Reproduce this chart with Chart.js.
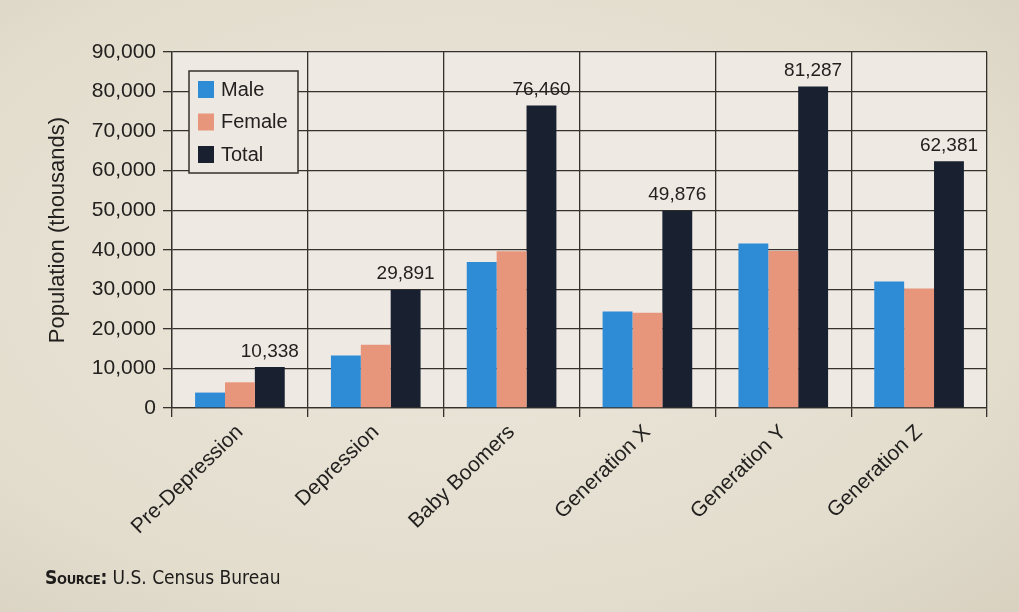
<!DOCTYPE html>
<html>
<head>
<meta charset="utf-8">
<script src="https://cdn.jsdelivr.net/npm/chart.js@4.4.1/dist/chart.umd.min.js"></script>
<style>
  html,body{margin:0;padding:0;}
  body{width:1019px;height:612px;overflow:hidden;position:relative;
    background:radial-gradient(ellipse at 45% 45%, #ece7db 0%, #e3ddce 70%, #d8d1c0 100%);}
  #wrap{position:absolute;left:0;top:0;width:1019px;height:612px;}
  #source{position:absolute;left:45px;top:566px;color:#1d1c1a;font-size:19px;
    font-family:"Liberation Sans Narrow","DejaVu Sans Condensed","Liberation Sans",sans-serif;}
  #source b{font-variant:small-caps;font-weight:bold;letter-spacing:-0.3px;}
</style>
</head>
<body>
<div id="wrap"><canvas id="chart" width="1019" height="612"></canvas></div>
<div id="source"><b>Source:</b> U.S. Census Bureau</div>
<script>
// ===== Data (thousands) =====
const categories = ['Pre-Depression','Depression','Baby Boomers','Generation X','Generation Y','Generation Z'];
const male   = [3900, 13300, 36900, 24400, 41600, 32000];
const female = [6500, 16000, 39600, 24100, 39700, 30200];
const total  = [10338, 29891, 76460, 49876, 81287, 62381];
const yTicks = [0,10000,20000,30000,40000,50000,60000,70000,80000,90000];

const fmt = n => new Intl.NumberFormat('en-US').format(n);
const INK = '#23211f';
const GRID = '#35312d';
const FONT = '"Liberation Sans", Arial, sans-serif';

// plot area background
const plotBg = {
  id:'plotBg',
  beforeDraw(chart){
    const {ctx, chartArea:a} = chart;
    ctx.save(); ctx.fillStyle='#efe9e4';
    ctx.fillRect(a.left, a.top, a.right-a.left, a.bottom-a.top);
    ctx.restore();
  }
};

// value labels over the Total bars
const totalLabels = {
  id:'totalLabels',
  afterDatasetsDraw(chart){
    const {ctx} = chart;
    const meta = chart.getDatasetMeta(2);
    ctx.save();
    ctx.font = '19px '+FONT; ctx.fillStyle = INK;
    ctx.textAlign='center'; ctx.textBaseline='bottom';
    meta.data.forEach((bar,i)=>ctx.fillText(fmt(total[i]), bar.x, bar.y-6));
    ctx.restore();
  }
};

// boxed legend inside the plot, top-left
const boxLegend = {
  id:'boxLegend',
  afterDraw(chart){
    const {ctx, chartArea:a} = chart;
    const x = a.left+17, y = a.top+19, w = 109, h = 102;
    ctx.save();
    ctx.fillStyle='#eee8e2'; ctx.fillRect(x,y,w,h);
    ctx.strokeStyle=GRID; ctx.lineWidth=1.5; ctx.strokeRect(x,y,w,h);
    ctx.font='20px '+FONT; ctx.textBaseline='middle'; ctx.textAlign='left';
    chart.data.datasets.forEach((ds,i)=>{
      const cy = y+18+i*32.5;
      ctx.fillStyle = ds.backgroundColor; ctx.fillRect(x+9, cy-8, 16, 17);
      ctx.fillStyle = INK; ctx.fillText(ds.label, x+32, cy+1);
    });
    ctx.restore();
  }
};

new Chart(document.getElementById('chart'), {
  type:'bar',
  data:{
    labels:categories,
    datasets:[
      {label:'Male',   data:male,   backgroundColor:'#2e8bd6'},
      {label:'Female', data:female, backgroundColor:'#e8967b'},
      {label:'Total',  data:total,  backgroundColor:'#19202f'}
    ]
  },
  options:{
    responsive:false, animation:false,
    layout:{padding:{left:0, top:52, right:32, bottom:0}},
    datasets:{bar:{categoryPercentage:0.66, barPercentage:1.0, borderWidth:0}},
    plugins:{legend:{display:false}, tooltip:{enabled:false}},
    scales:{
      x:{
        grid:{offset:true, color:GRID, lineWidth:1.3, tickLength:9},
        border:{color:GRID, width:1.3},
        ticks:{color:INK, font:{family:FONT, size:21}, minRotation:44, maxRotation:44, padding:3},
        afterFit(s){ s.height = 204; }
      },
      y:{
        min:0, max:90000,
        afterBuildTicks(s){ s.ticks = yTicks.map(v=>({value:v})); },
        grid:{color:GRID, lineWidth:1.3, tickLength:9},
        border:{color:GRID, width:1.3},
        ticks:{color:INK, font:{family:FONT, size:21}, padding:7, callback:v=>fmt(v)},
        title:{display:true, text:'Population (thousands)', color:INK,
               font:{family:FONT, size:22}, padding:{top:45, bottom:0}},
        afterFit(s){ s.width = 172; }
      }
    }
  },
  plugins:[plotBg, totalLabels, boxLegend]
});
</script>
</body>
</html>
